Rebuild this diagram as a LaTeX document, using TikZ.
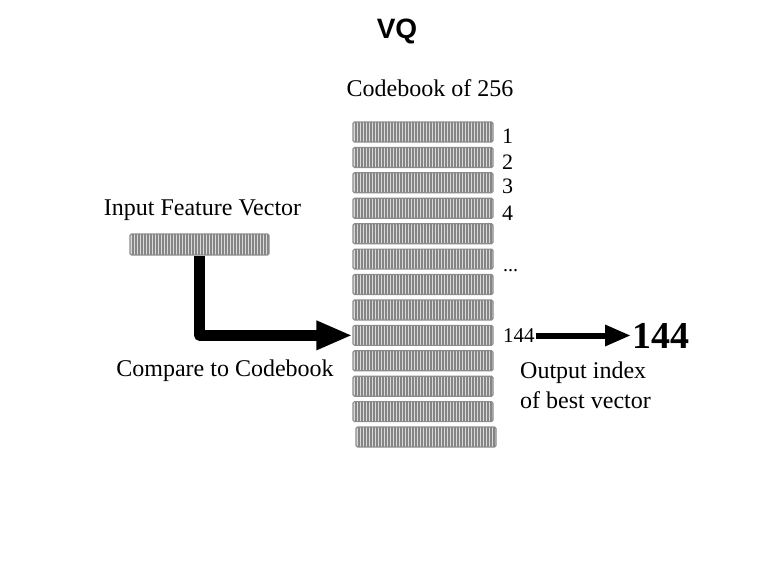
\documentclass[tikz,border=0pt]{standalone}
\usepackage{fontspec}
\setmainfont{Liberation Serif}
\newfontfamily\titlefont{Liberation Sans}
\usetikzlibrary{arrows.meta}
\definecolor{barfill}{HTML}{DADADA}
\definecolor{barline}{HTML}{858585}
\definecolor{barborder}{HTML}{8C8C8C}
\tikzset{
  vecbar/.style={draw=barborder, line width=1.2pt, fill=barfill, rounded corners=1.5pt,
    minimum width=140pt, minimum height=20pt, inner sep=0pt,
    path picture={
      \foreach \k in {1,...,46}{
        \draw[barline, line width=1.2pt]
          ([xshift=\k*3pt]path picture bounding box.south west) --
          ([xshift=\k*3pt]path picture bounding box.north west);
      }
    }},
  lbl/.style={inner sep=0pt, font=\fontsize{24}{30}\selectfont},
  idx/.style={inner sep=0pt, anchor=base west, font=\fontsize{22}{26}\selectfont},
  bigarrow/.style={line width=11pt, line join=round, -{Triangle[length=36pt 0 0,width=27pt 0 0]}},
  outshaft/.style={line width=6pt},
  outhead/.style={fill=black}
}
\begin{document}
\begin{tikzpicture}[x=1pt,y=-1pt]
\useasboundingbox (0,0) rectangle (767,583);
\node[inner sep=0pt, font=\titlefont\bfseries\fontsize{28}{32}\selectfont] (title) at (397,31.5) {VQ};
\node[lbl, anchor=base] (cbtitle) at (430,97) {Codebook of 256};
\node[lbl, anchor=base] (inlabel) at (202.5,215) {Input Feature Vector};
\node[lbl, anchor=base] (cmp) at (225,376) {Compare to Codebook};
\node[lbl, anchor=north west, align=left] (outlabel) at (520,361.5) {Output index\\of best vector};

\node[vecbar, minimum width=139pt, minimum height=21pt] (in) at (199.5,244.5) {};

\foreach \i in {1,...,12}{
  \node[vecbar] (b\i) at (423, {132+(\i-1)*25.42}) {};
}
\node[vecbar] (b13) at (426, {132+12*25.42}) {};

\node[idx] (n1) at (502,143) {1};
\node[idx] (n2) at (502,169) {2};
\node[idx] (n3) at (502,193) {3};
\node[idx] (n4) at (502,220) {4};
\node[idx, font=\fontsize{20}{24}\selectfont] (ndots) at (503,271) {...};

\node[inner sep=0pt, outer sep=1pt, anchor=west, font=\fontsize{21}{24}\selectfont] (s144) at (502,335.5) {144};
\node[inner sep=0pt, outer sep=2pt, anchor=west, font=\bfseries\fontsize{38}{40}\selectfont] (big144) at (630,335.5) {144};

\draw[bigarrow] (in.south) |- (b9.west);
\draw[outshaft] (s144.east) -- ([xshift=-22pt]big144.west);
\fill[outhead] ([xshift=-25pt,yshift=-11pt]big144.west) -- (big144.west) -- ([xshift=-25pt,yshift=11pt]big144.west) -- cycle;
\end{tikzpicture}
\end{document}
